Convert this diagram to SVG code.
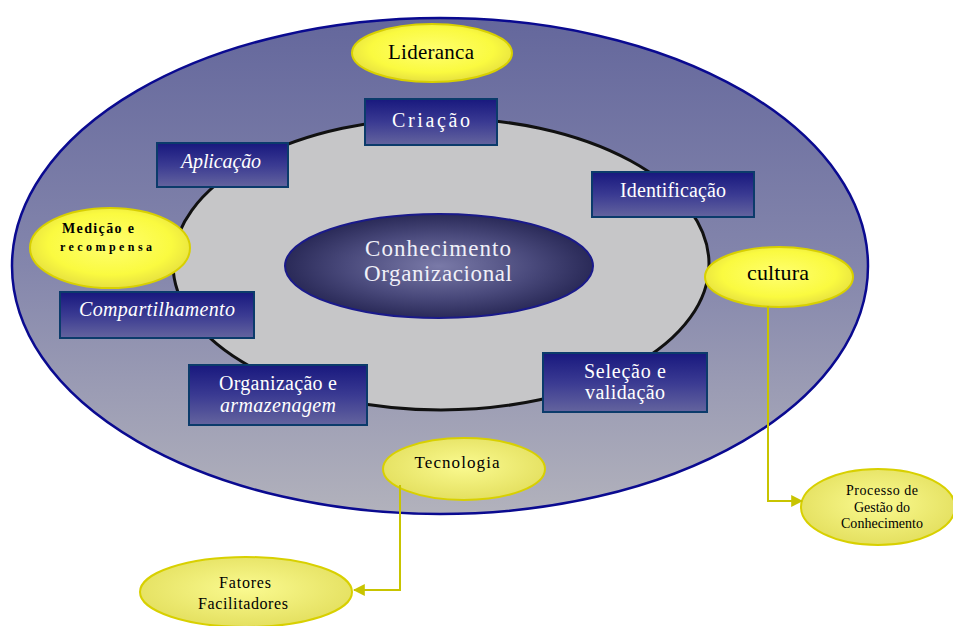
<svg xmlns="http://www.w3.org/2000/svg" width="953" height="626" viewBox="0 0 953 626">
  <defs>
    <linearGradient id="outerFill" x1="0" y1="0" x2="0" y2="1">
      <stop offset="0" stop-color="#64679c"/>
      <stop offset="0.5" stop-color="#8486ac"/>
      <stop offset="1" stop-color="#b2b2bc"/>
    </linearGradient>
    <radialGradient id="coreFill" cx="0.5" cy="0.5" r="0.5">
      <stop offset="0" stop-color="#7a7aa8"/>
      <stop offset="0.6" stop-color="#4a4a7c"/>
      <stop offset="1" stop-color="#2a2a58"/>
    </radialGradient>
    <linearGradient id="boxFill" x1="0" y1="0" x2="0" y2="1">
      <stop offset="0" stop-color="#18187e"/>
      <stop offset="0.5" stop-color="#3a3a92"/>
      <stop offset="1" stop-color="#64649e"/>
    </linearGradient>
    <radialGradient id="yellowFill" cx="0.5" cy="0.45" r="0.55">
      <stop offset="0" stop-color="#ffff70"/>
      <stop offset="0.7" stop-color="#fafa40"/>
      <stop offset="1" stop-color="#e6e040"/>
    </radialGradient>
    <radialGradient id="paleYellowFill" cx="0.5" cy="0.45" r="0.55">
      <stop offset="0" stop-color="#fafa90"/>
      <stop offset="1" stop-color="#e4e060"/>
    </radialGradient>
    <marker id="arrow" viewBox="0 0 10 10" refX="9" refY="5" markerWidth="6" markerHeight="6" orient="auto">
      <path d="M0,0 L10,5 L0,10 z" fill="#c8c400"/>
    </marker>
    <style>
      .box { fill: url(#boxFill); stroke: #0b3b6b; stroke-width: 2; }
      .boxText { font-family: "Liberation Serif", "DejaVu Serif", serif; font-size: 20px; fill: #ffffff; text-anchor: middle; }
      .yellow { fill: url(#yellowFill); stroke: #d8d000; stroke-width: 2; }
      .paleYellow { fill: url(#paleYellowFill); stroke: #d8d000; stroke-width: 2; }
      .darkText { font-family: "Liberation Serif", "DejaVu Serif", serif; fill: #000000; text-anchor: middle; }
      .link { fill: none; stroke: #c8c400; stroke-width: 2; }
    </style>
  </defs>

  <rect width="953" height="626" fill="#ffffff"/>

  <!-- outer field of facilitating factors -->
  <g id="outer-ring">
    <ellipse cx="440" cy="266" rx="428" ry="248" fill="url(#outerFill)" stroke="#0a0a90" stroke-width="2.5"/>
  </g>

  <!-- knowledge management cycle -->
  <g id="inner-cycle">
    <ellipse cx="441" cy="264" rx="268" ry="146" fill="#c6c6c8" stroke="#111111" stroke-width="3"/>
  </g>

  <g id="conhecimento-organizacional">
    <ellipse cx="439" cy="266" rx="154" ry="52" fill="url(#coreFill)" stroke="#1a1a8a" stroke-width="2"/>
    <text x="438" y="256" font-family="Liberation Serif, DejaVu Serif, serif" font-size="23" fill="#f0f0f8" text-anchor="middle" textLength="146" lengthAdjust="spacing">Conhecimento</text>
    <text x="438" y="281" font-family="Liberation Serif, DejaVu Serif, serif" font-size="23" fill="#f0f0f8" text-anchor="middle" textLength="148" lengthAdjust="spacing">Organizacional</text>
  </g>

  <!-- process stages -->
  <g id="criacao">
    <rect class="box" x="365" y="99" width="132" height="46"/>
    <text class="boxText" x="431" y="127" textLength="78" lengthAdjust="spacing">Criação</text>
  </g>
  <g id="aplicacao">
    <rect class="box" x="157" y="143" width="131" height="44"/>
    <text class="boxText" x="221" y="168" textLength="80" lengthAdjust="spacing" font-style="italic">Aplicação</text>
  </g>
  <g id="identificacao">
    <rect class="box" x="592" y="172" width="162" height="45"/>
    <text class="boxText" x="673" y="197" textLength="106" lengthAdjust="spacing">Identificação</text>
  </g>
  <g id="compartilhamento">
    <rect class="box" x="60" y="292" width="194" height="46"/>
    <text class="boxText" x="157" y="316" textLength="156" lengthAdjust="spacing" font-style="italic">Compartilhamento</text>
  </g>
  <g id="organizacao">
    <rect class="box" x="189" y="365" width="178" height="60"/>
    <text class="boxText" x="278" y="390" textLength="118" lengthAdjust="spacing">Organização e</text>
    <text class="boxText" x="278" y="412" textLength="116" lengthAdjust="spacing" font-style="italic">armazenagem</text>
  </g>
  <g id="selecao">
    <rect class="box" x="543" y="353" width="164" height="59"/>
    <text class="boxText" x="625" y="378" textLength="82" lengthAdjust="spacing">Seleção e</text>
    <text class="boxText" x="625" y="399" textLength="80" lengthAdjust="spacing">validação</text>
  </g>

  <!-- facilitating factors -->
  <g id="lideranca">
    <ellipse class="yellow" cx="432" cy="53" rx="80" ry="29"/>
    <text class="darkText" x="431" y="59" font-size="21" textLength="86" lengthAdjust="spacing">Lideranca</text>
  </g>
  <g id="medicao">
    <ellipse class="yellow" cx="110" cy="248" rx="80" ry="40"/>
    <text class="darkText" x="98" y="233" font-size="14" font-weight="bold" textLength="72" lengthAdjust="spacing">Medição e</text>
    <text class="darkText" x="106" y="251" font-size="12" font-weight="bold" textLength="92" lengthAdjust="spacing">recompensa</text>
  </g>
  <g id="cultura">
    <ellipse class="yellow" cx="779" cy="277" rx="74" ry="30"/>
    <text class="darkText" x="778" y="280" font-size="22" textLength="62" lengthAdjust="spacing">cultura</text>
  </g>
  <g id="tecnologia">
    <ellipse class="paleYellow" cx="464" cy="469" rx="81" ry="31"/>
    <text class="darkText" x="457" y="468" font-size="17" textLength="85" lengthAdjust="spacing">Tecnologia</text>
  </g>

  <!-- legend labels -->
  <g id="fatores-facilitadores">
    <ellipse class="paleYellow" cx="246" cy="592" rx="106" ry="35"/>
    <text class="darkText" x="245" y="588" font-size="16" textLength="52" lengthAdjust="spacing">Fatores</text>
    <text class="darkText" x="243" y="609" font-size="16" textLength="90" lengthAdjust="spacing">Facilitadores</text>
  </g>
  <g id="processo-gestao">
    <ellipse class="paleYellow" cx="878" cy="507" rx="77" ry="38"/>
    <text class="darkText" x="882" y="495" font-size="14" textLength="72" lengthAdjust="spacing">Processo de</text>
    <text class="darkText" x="882" y="512" font-size="14" textLength="56" lengthAdjust="spacing">Gestão do</text>
    <text class="darkText" x="882" y="528" font-size="14" textLength="82" lengthAdjust="spacing">Conhecimento</text>
  </g>

  <!-- legend connectors -->
  <g id="connectors">
    <path class="link" d="M400,485 L400,590 L354,590" marker-end="url(#arrow)"/>
    <path class="link" d="M768,306 L768,501 L802,501" marker-end="url(#arrow)"/>
  </g>
</svg>
